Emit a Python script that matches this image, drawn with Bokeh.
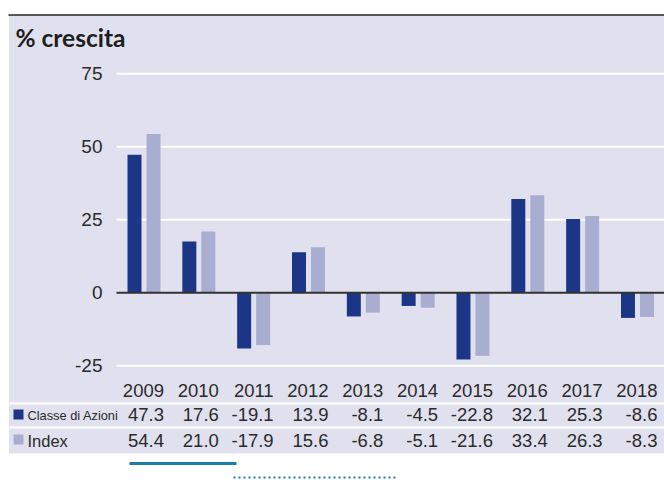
from bokeh.plotting import figure
from bokeh.models import Range1d
from bokeh.core.properties import value
from bokeh.embed import file_html
from bokeh.resources import INLINE

# ---- data ----
years = ["2009", "2010", "2011", "2012", "2013", "2014", "2015", "2016", "2017", "2018"]
classe = [47.3, 17.6, -19.1, 13.9, -8.1, -4.5, -22.8, 32.1, 25.3, -8.6]
index_vals = [54.4, 21.0, -17.9, 15.6, -6.8, -5.1, -21.6, 33.4, 26.3, -8.3]
y_ticks = [75, 50, 25, 0, -25]
series_names = ["Classe di Azioni", "Index"]
title_text = "% crescita"

# ---- layout constants (page pixels) ----
W, H = 664, 487
OFF = 0
X0 = 143.5      # page x of first group centre
DX = 54.83      # px per category
Y0 = 292.3      # page y of value 0
DY = 2.92       # px per unit

def px(page_x):
    return (page_x - X0) / DX

def py(page_y):
    return (Y0 - page_y) / DY

DARK = "#1B3587"
LIGHT = "#A9ADD0"
PANEL = "#E0E0EE"
TXT = "#2b2b2b"

p = figure(width=W, height=H, output_backend="svg", toolbar_location=None,
           x_range=Range1d(px(OFF), px(OFF + W)), y_range=Range1d(py(OFF + H), py(OFF)),
           min_border=0, min_border_left=0, min_border_right=0, min_border_top=0, min_border_bottom=0)
p.axis.visible = False
p.grid.visible = False
p.outline_line_color = None
p.background_fill_color = "white"
p.border_fill_color = "white"

# panel
p.quad(left=[px(8.5)], right=[px(OFF + W)], top=[py(15)], bottom=[py(453)],
       fill_color=PANEL, line_color=None)
# top rule
p.segment(x0=[px(8)], x1=[px(OFF + W)], y0=[py(14.5)], y1=[py(14.5)],
          line_color="#222222", line_width=1.5)
# title
p.text(x=[px(15)], y=[py(37)], text=[title_text], text_font=value("Lato"),
       text_font_style="bold", text_font_size="24.5px", text_color="#1e1e1e",
       text_baseline="middle", text_align="left")

# grid lines
grid_vals = [t for t in y_ticks if t != 0]
p.segment(x0=[px(116)] * len(grid_vals), x1=[px(OFF + W)] * len(grid_vals),
          y0=grid_vals, y1=grid_vals, line_color="white", line_width=2)
# y tick labels
p.text(x=[px(102)] * len(y_ticks), y=y_ticks, text=[str(t) for t in y_ticks],
       text_font=value("Liberation Sans"), text_font_size="19px", text_color=TXT,
       text_align="right", text_baseline="middle")

# bars
n = len(years)
xs = list(range(n))
bw = 14 / DX
boff = 9.5 / DX
p.vbar(x=[x - boff for x in xs], top=classe, bottom=0, width=bw, fill_color=DARK, line_color=None)
p.vbar(x=[x + boff for x in xs], top=index_vals, bottom=0, width=bw, fill_color=LIGHT, line_color=None)

# zero line
p.segment(x0=[px(116)], x1=[px(OFF + W)], y0=[0], y1=[0], line_color="#333333", line_width=2)

# table
col_x = [x + 20 / DX for x in xs]
p.text(x=col_x, y=[py(390)] * n, text=years, text_font=value("Liberation Sans"),
       text_font_size="18.5px", text_color=TXT, text_align="right", text_baseline="middle")
p.segment(x0=[px(9)] * 2, x1=[px(OFF + W)] * 2, y0=[py(403), py(427)], y1=[py(403), py(427)],
          line_color="white", line_width=2)
p.text(x=col_x, y=[py(414)] * n, text=[f"{v:.1f}" for v in classe],
       text_font=value("Liberation Sans"), text_font_size="18.5px", text_color=TXT,
       text_align="right", text_baseline="middle")
p.text(x=col_x, y=[py(440)] * n, text=[f"{v:.1f}" for v in index_vals],
       text_font=value("Liberation Sans"), text_font_size="18.5px", text_color=TXT,
       text_align="right", text_baseline="middle")

# row keys
p.scatter(x=[px(18), px(18)], y=[py(414), py(439)], marker="square", size=10,
          fill_color=[DARK, LIGHT], line_color=None)
p.text(x=[px(27)], y=[py(414.5)], text=[series_names[0]], text_font=value("Liberation Sans"),
       text_font_size="12.8px", text_color=TXT, text_align="left", text_baseline="middle")
p.text(x=[px(27)], y=[py(440)], text=[series_names[1]], text_font=value("Liberation Sans"),
       text_font_size="16.5px", text_color=TXT, text_align="left", text_baseline="middle")

# decorative rules below panel
p.segment(x0=[px(129)], x1=[px(236)], y0=[py(463)], y1=[py(463)], line_color="#1a7fa3", line_width=3)
p.segment(x0=[px(233)], x1=[px(397)], y0=[py(477)], y1=[py(477)], line_color="#1a7fa3",
          line_width=2, line_dash="2 3")

open("out.html", "w").write(file_html(p, INLINE))
